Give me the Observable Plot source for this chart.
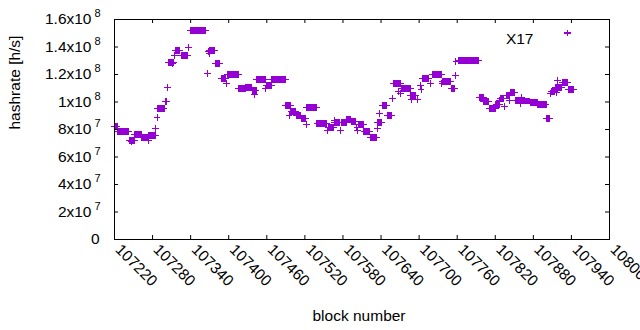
<!DOCTYPE html>
<html>
<head>
<meta charset="utf-8">
<script src="https://cdn.jsdelivr.net/npm/d3@7"></script>
<script src="https://cdn.jsdelivr.net/npm/@observablehq/plot@0.6"></script>
<style>
  html, body { margin: 0; padding: 0; background: #fff; }
  #chart svg { display: block; }
  .pts path { shape-rendering: crispEdges; }
</style>
</head>
<body>
<div id="chart"></div>
<script>
// ---- data ----
const seriesName = "X17";

// runs of consecutive blocks sharing one hashrate value: start block, end block, hashrate
const runStart = [107220,107225,107243,107252,107263,107274,107288,107300,107305,107316,107325,107340,
  107370,107379,107388,107398,107416,107427,107437,107444,107459,107468,107490,107498,107506,107514,
  107523,107539,107557,107566,107577,107586,107593,107605,107613,107623,107635,107642,107650,107660,
  107672,107687,107705,107721,107737,107751,107762,107795,107802,107811,107821,107828,107838,107844,
  107852,107862,107875,107887,107901,107908,107915,107926,107935];
const runEnd = [107224,107242,107251,107262,107272,107284,107298,107302,107313,107323,107335,107364,
  107378,107386,107395,107415,107426,107436,107443,107458,107467,107489,107497,107505,107513,107521,
  107538,107554,107565,107574,107585,107592,107600,107612,107622,107633,107641,107649,107656,107671,
  107686,107695,107715,107735,107750,107756,107794,107801,107810,107820,107827,107833,107843,107851,
  107861,107874,107886,107900,107906,107914,107923,107934,107943];
const runValue = [82.4e6,78.5e6,72.2e6,76.4e6,74.4e6,75.4e6,95.5e6,100.4e6,128.7e6,137.2e6,133.6e6,151.8e6,
  137.2e6,127.8e6,116.9e6,120.0e6,109.6e6,110.3e6,108.1e6,116.1e6,112.2e6,116.1e6,97.2e6,92.9e6,90.4e6,87.8e6,
  95.8e6,84.1e6,81.5e6,85.3e6,85.3e6,87.0e6,86.0e6,83.4e6,78.8e6,74.0e6,85.2e6,97.2e6,90.0e6,113.2e6,
  109.6e6,105.0e6,116.9e6,120.0e6,115.1e6,109.6e6,130.0e6,103.0e6,100.6e6,95.5e6,98.0e6,102.3e6,104.7e6,106.7e6,
  101.3e6,100.8e6,99.4e6,98.0e6,87.8e6,107.9e6,110.3e6,114.0e6,109.3e6];

// single scattered blocks
const singleBlock = [107247,107273,107285,107287,107304,107312,107315,107337,107367,107368,107369,107396,
  107441,107458,107495,107522,107556,107560,107566,107576,107602,107603,107634,107638,107658,107668,107671,
  107688,107697,107702,107703,107718,107736,107757,107758,107826,107835,107842,107860,107861,107907,
  107917,107918,107925];
const singleValue = [71.5e6,72.0e6,80.5e6,88.5e6,110.8e6,127.8e6,133.8e6,139.9e6,120.5e6,136.7e6,135.0e6,113.2e6,
  105.5e6,109.6e6,90.2e6,83.4e6,79.3e6,81.2e6,86.5e6,79.3e6,81.7e6,79.3e6,80.5e6,91.4e6,102.3e6,107.9e6,106.4e6,
  101.6e6,101.6e6,112.0e6,108.9e6,113.7e6,113.2e6,119.3e6,129.5e6,101.0e6,96.7e6,101.0e6,98.7e6,103.5e6,106.0e6,
  107.2e6,115.6e6,110.8e6];

// axis ticks and tick labels
const xTickValues = [107220,107280,107340,107400,107460,107520,107580,107640,107700,107760,107820,107880,107940,108000];
const xTickLabels = ["107220","107280","107340","107400","107460","107520","107580","107640","107700","107760","107820","107880","107940","108000"];
const yTickValues = [0,2e7,4e7,6e7,8e7,1e8,1.2e8,1.4e8,1.6e8];
const yTickBase = ["0","2x10","4x10","6x10","8x10","1x10","1.2x10","1.4x10","1.6x10"];
const yTickExp = ["","7","7","7","7","8","8","8","8"];
const xLabel = "block number";
const yLabel = "hashrate [h/s]";

// ---- build table ----
const points = [];
runStart.forEach((s, i) => {
  for (let b = s; b <= runEnd[i]; b++) points.push({block: b, hashrate: runValue[i]});
});
singleBlock.forEach((b, i) => points.push({block: b, hashrate: singleValue[i]}));

const yTicks = yTickValues.map((v, i) => ({v, base: yTickBase[i], exp: yTickExp[i]}));
const xTicks = xTickValues.map((v, i) => ({v, label: xTickLabels[i]}));

const plusSymbol = {
  draw(context, size) {
    const h = Math.sqrt(size / Math.PI);
    context.moveTo(-h, 0); context.lineTo(h, 0);
    context.moveTo(0, -h); context.lineTo(0, h);
  }
};
const color = "#9400d3";

const chart = Plot.plot({
  width: 640,
  height: 330,
  marginLeft: 114,
  marginRight: 31,
  marginTop: 19,
  marginBottom: 91,
  x: {domain: [107220, 108000], axis: null},
  y: {domain: [0, 1.6e8], axis: null},
  style: {fontFamily: "'Liberation Sans', Arial, sans-serif", fontSize: "15.5px", color: "#000", background: "#fff"},
  marks: [
    Plot.dot(points, {x: "block", y: "hashrate", symbol: plusSymbol, r: 3.4, stroke: color, fill: "none", strokeWidth: 1, className: "pts"}),
    Plot.frame({stroke: "#000", strokeWidth: 1}),
    Plot.tickX(xTickValues, {x: d => d, insetTop: 216, stroke: "#000"}),
    Plot.tickX(xTickValues, {x: d => d, insetBottom: 216, stroke: "#000"}),
    Plot.tickY(yTickValues, {y: d => d, insetRight: 491, stroke: "#000"}),
    Plot.tickY(yTickValues, {y: d => d, insetLeft: 491, stroke: "#000"}),
    Plot.text(xTicks, {x: "v", text: "label", frameAnchor: "bottom", rotate: 45, textAnchor: "start", dx: 0, dy: 11, fill: "#000"}),
    Plot.text(yTicks.filter(d => d.exp), {y: "v", text: "base", frameAnchor: "left", textAnchor: "end", dx: -23, fill: "#000"}),
    Plot.text(yTicks.filter(d => d.exp), {y: "v", text: "exp", frameAnchor: "left", textAnchor: "start", dx: -20, dy: -6, fontSize: 11, fill: "#000"}),
    Plot.text(yTicks.filter(d => !d.exp), {y: "v", text: "base", frameAnchor: "left", textAnchor: "end", dx: -15, fill: "#000"}),
    Plot.text([yLabel], {frameAnchor: "left", rotate: -90, dx: -99, fill: "#000"}),
    Plot.text([xLabel], {frameAnchor: "bottom", dy: 81, dx: -3, fill: "#000"}),
    Plot.text([seriesName], {frameAnchor: "top-right", textAnchor: "end", dx: -76, dy: 13.5, fill: "#000"}),
    Plot.dot([seriesName], {frameAnchor: "top-right", dx: -42, dy: 13.5, symbol: plusSymbol, r: 3.4, stroke: color, fill: "none", className: "pts"})
  ]
});
document.getElementById("chart").appendChild(chart);
</script>
</body>
</html>
